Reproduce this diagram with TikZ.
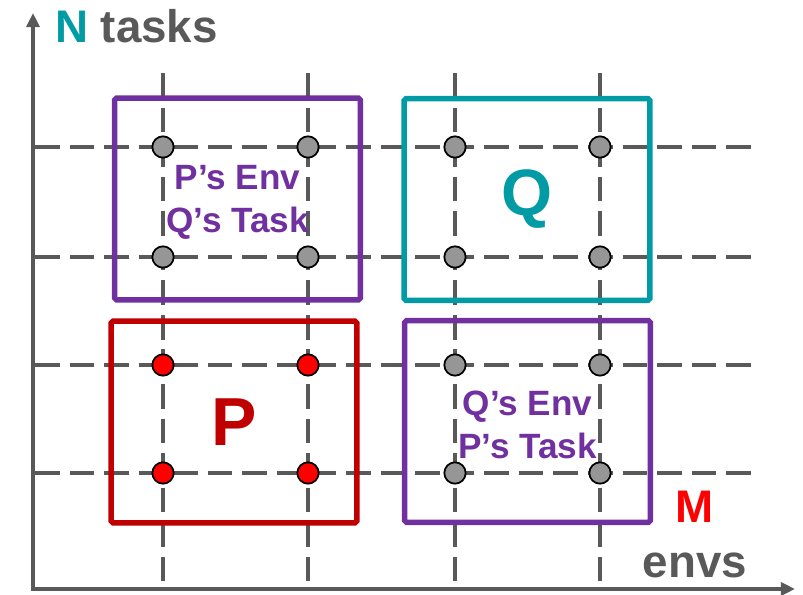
\documentclass[tikz,border=0pt]{standalone}
\usepackage{fontspec}
\setmainfont{Liberation Sans}
\usepackage{xcolor}
\usetikzlibrary{arrows.meta,positioning}
\definecolor{envpurple}{RGB}{112,48,160}
\definecolor{qteal}{RGB}{0,155,165}
\definecolor{pred}{RGB}{192,0,0}
\definecolor{mred}{RGB}{255,0,0}
\definecolor{axgray}{RGB}{89,89,89}
\definecolor{dotgray}{RGB}{150,150,150}
\tikzset{
  ax/.style={axgray,line width=4pt,{Triangle[length=12pt,width=11pt]}-{Triangle[length=12pt,width=11pt]}},
  gridln/.style={axgray,line width=2.7pt,dash pattern=on 21pt off 8.5pt},
  taskbox/.style={draw,line width=4.6pt,rounded corners=1.5pt,minimum width=7.37cm,minimum height=6.05cm},
  dotG/.style={circle,draw=black,line width=1.5pt,fill=dotgray,minimum size=0.64cm,inner sep=0pt},
  dotR/.style={dotG,fill=mred},
  mixlab/.style={envpurple,align=center,font=\fontsize{30}{37}\selectfont\bfseries},
  axlab/.style={font=\fontsize{39}{40}\selectfont\bfseries},
}
\begin{document}
\begin{tikzpicture}[x=0.03cm,y=-0.03cm]
  \useasboundingbox (0,0) rectangle (803,595);
  % --- grid lines ---
  \foreach \gx in {163,308,455,600}
    \draw[gridln] (\gx,73) -- (\gx,589);
  \foreach \gy in {147,257,365,473}
    \draw[gridln] (35,\gy) -- (753,\gy);
  % axes
  \coordinate (ytip) at (33,13);
  \coordinate (orig) at (33,589);
  \coordinate (xtip) at (795,589);
  \draw[ax] (ytip) -- (orig) -- (xtip);
  % --- boxes ---
  \node[taskbox,draw=envpurple] (pe) at (237.5,199) {};
  \node[taskbox,draw=qteal]     (qb) at (527,199.5) {};
  \node[taskbox,draw=pred]      (pb) at (234,422) {};
  \node[taskbox,draw=envpurple] (qe) at (527.5,421.5) {};
  % --- grid points ---
  \foreach \gx/\i in {163/1,308/2,455/3,600/4}
    \foreach \gy/\j in {147/1,257/2,365/3,473/4}{
      \ifnum\i<3 \ifnum\j>2 \def\dotsty{dotR}\else\def\dotsty{dotG}\fi\else\def\dotsty{dotG}\fi
      \node[\dotsty] (d\i\j) at (\gx,\gy) {};
    }
  % box labels
  \node[mixlab] (pelab) at ([yshift=-3pt]pe.center) {P’s Env\\Q’s Task};
  \node[mixlab] (qelab) at ([yshift=-3pt]qe.center) {Q’s Env\\P’s Task};
  \node[qteal,font=\fontsize{56}{60}\selectfont\bfseries] (qlab) at ([yshift=0.5pt]qb.center) {Q};
  \node[pred,font=\fontsize{58}{60}\selectfont\bfseries]  (plab) at (pb.center) {P};
  % axis names
  \node[axlab,axgray,anchor=base west] (ntasks) at (51,43) {\textcolor{qteal}{N} tasks};
  \node[axlab,mred,anchor=base] (mlab) at (695,522) {M};
  \node[axlab,axgray,anchor=base] (envs) at (695,577) {envs};
\end{tikzpicture}
\end{document}
